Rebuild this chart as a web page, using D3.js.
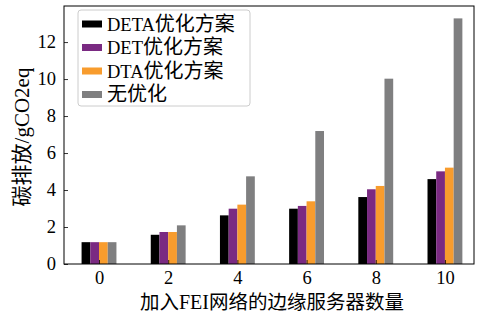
<!DOCTYPE html>
<html>
<head>
<meta charset="utf-8">
<script src="https://cdn.jsdelivr.net/npm/d3@7"></script>
<style>
  html, body { margin: 0; padding: 0; background: #fff; }
  svg { display: block; }
  text { font-family: "Liberation Serif", "Noto Sans CJK SC", serif; fill: #000; }
</style>
</head>
<body>
<svg id="chart" width="482" height="322"></svg>
<script>
// Number of edge servers added to the FEI network
const categories = ["0", "2", "4", "6", "8", "10"];

// Carbon emission (gCO2eq) per scheme
const seriesNames = ["DETA优化方案", "DET优化方案", "DTA优化方案", "无优化"];
const detaValues = [1.18, 1.58, 2.63, 2.99, 3.62, 4.59];
const detValues  = [1.18, 1.73, 2.99, 3.14, 4.04, 5.01];
const dtaValues  = [1.18, 1.73, 3.21, 3.39, 4.22, 5.21];
const noneValues = [1.18, 2.09, 4.74, 7.19, 10.02, 13.28];
const seriesColors = ["#000000", "#7a2a82", "#f89c2d", "#7f7f80"];

const yTicks = [0, 2, 4, 6, 8, 10, 12];
const xLabel = "加入FEI网络的边缘服务器数量";
const yLabel = "碳排放/gCO2eq";

const series = [detaValues, detValues, dtaValues, noneValues];

const svg = d3.select("#chart");
const plotL = 64, plotR = 474, plotT = 6, plotB = 264;

// Category index axis (bars grouped around each integer position)
const x = d3.scaleLinear().domain([-0.506, 5.42]).range([plotL, plotR]);
const y = d3.scaleLinear().domain([0, 13.95]).range([plotB, plotT]);
const barW = 0.126; // in category units

// Write mixed Latin / CJK text, giving CJK runs their own size
function mixedText(sel, str, latinSize, cjkSize) {
  const parts = str.match(/[\u4e00-\u9fff]+|[^\u4e00-\u9fff]+/g);
  parts.forEach(p => {
    const cjk = /[\u4e00-\u9fff]/.test(p);
    sel.append("tspan")
      .style("font-size", (cjk ? cjkSize : latinSize) + "px")
      .style("font-family", cjk ? "'Noto Sans CJK SC', sans-serif" : "'Liberation Serif', serif")
      .text(p);
  });
}

const g = svg.append("g");

series.forEach((vals, si) => {
  g.selectAll(null)
    .data(vals)
    .enter()
    .append("rect")
    .attr("x", (d, i) => x(i + (si - 2) * barW))
    .attr("width", x(barW) - x(0))
    .attr("y", d => y(d))
    .attr("height", d => y(0) - y(d))
    .attr("fill", seriesColors[si]);
});

// Axes with inward ticks
const xAxis = d3.axisBottom(x)
  .tickValues(d3.range(categories.length))
  .tickFormat((d, i) => categories[i])
  .tickSizeInner(-4).tickSizeOuter(0).tickPadding(7);
const yAxis = d3.axisLeft(y)
  .tickValues(yTicks)
  .tickSizeInner(-4).tickSizeOuter(0).tickPadding(8);

const gx = svg.append("g").attr("transform", `translate(0,${plotB})`).call(xAxis);
const gy = svg.append("g").attr("transform", `translate(${plotL},0)`).call(yAxis);
[gx, gy].forEach(a => {
  a.select(".domain").remove();
  a.selectAll("line").attr("stroke", "#000").attr("stroke-width", 0.8);
  a.selectAll("text").style("font-size", "18.5px").attr("fill", "#000")
    .style("font-family", "'Liberation Serif', serif");
});

// Frame
svg.append("rect")
  .attr("x", plotL).attr("y", plotT)
  .attr("width", plotR - plotL).attr("height", plotB - plotT)
  .attr("fill", "none").attr("stroke", "#000").attr("stroke-width", 1);

// Axis titles
const xt = svg.append("text")
  .attr("x", 272).attr("y", 309)
  .attr("text-anchor", "middle");
mixedText(xt, xLabel, 20, 19.5);

const yt = svg.append("text")
  .attr("transform", `translate(29,${(plotT + plotB) / 2 + 2}) rotate(-90)`)
  .attr("text-anchor", "middle");
mixedText(yt, yLabel, 21, 21);

// Legend
const lg = svg.append("g").attr("transform", "translate(78,10)");
lg.append("rect")
  .attr("width", 172).attr("height", 96)
  .attr("rx", 3)
  .attr("fill", "#fff").attr("fill-opacity", 0.85)
  .attr("stroke", "#cccccc").attr("stroke-width", 1);
seriesNames.forEach((name, i) => {
  const cy = 14 + i * 23.5;
  lg.append("rect")
    .attr("x", 4).attr("y", cy - 3.5)
    .attr("width", 20).attr("height", 7)
    .attr("fill", seriesColors[i]);
  const t = lg.append("text")
    .attr("x", 29).attr("y", cy + 6.5);
  mixedText(t, name, 18.5, 20);
});
</script>
</body>
</html>
